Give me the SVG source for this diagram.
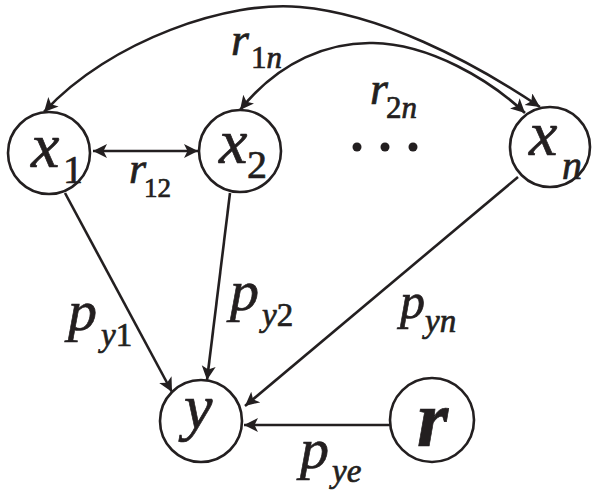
<svg xmlns="http://www.w3.org/2000/svg" width="600" height="496" viewBox="0 0 600 496">
<style>
.n{fill:#fff;stroke:#231f20;stroke-width:2.6}
.c{fill:none;stroke:#231f20;stroke-width:2.6}
text{fill:#231f20;stroke:#231f20;stroke-width:0.7}
.i{font-style:italic}
.u{font-style:normal}
.b{font-weight:bold;font-style:italic}
</style>
<defs>
<marker id="a" markerUnits="userSpaceOnUse" markerWidth="16" markerHeight="16" refX="14" refY="7" orient="auto-start-reverse">
<path d="M0,0 L14,7 L0,14 L3.5,7 Z" fill="#231f20"/>
</marker>
</defs>
<rect width="600" height="496" fill="#fff"/>
<g id="connectors">
<path class="c" d="M44,112 C110,40 230,0 300,7 C380,14 470,60 540,107" marker-start="url(#a)" marker-end="url(#a)"/>
<path class="c" d="M240,110 C280,60 330,42 373,43 C430,44 490,80 525,113" marker-start="url(#a)" marker-end="url(#a)"/>
<line class="c" x1="93" y1="151" x2="198" y2="151" marker-start="url(#a)" marker-end="url(#a)"/>
<line class="c" x1="65" y1="193" x2="172" y2="392" marker-end="url(#a)"/>
<line class="c" x1="230" y1="193" x2="207" y2="380" marker-end="url(#a)"/>
<line class="c" x1="518" y1="177" x2="245" y2="406" marker-end="url(#a)"/>
<line class="c" x1="390" y1="425" x2="244" y2="425" marker-end="url(#a)"/>
</g>
<g font-family="Times New Roman, Liberation Serif, Times, DejaVu Serif, serif">
<g id="labels">
<text class="i" x="231" y="55" font-size="46">r</text>
<text x="251" y="68" font-size="31"><tspan class="u">1</tspan><tspan class="i">n</tspan></text>
<text class="i" x="370" y="104" font-size="46">r</text>
<text x="386" y="118" font-size="31"><tspan class="u">2</tspan><tspan class="i">n</tspan></text>
<text class="i" x="129" y="183" font-size="44">r</text>
<text x="144" y="197" font-size="27">12</text>
<text class="i" x="68" y="330" font-size="58">p</text>
<text x="101" y="346" font-size="33"><tspan class="i">y</tspan><tspan class="u">1</tspan></text>
<text class="i" x="230" y="310" font-size="58">p</text>
<text x="262" y="326" font-size="33"><tspan class="i">y</tspan><tspan class="u">2</tspan></text>
<text class="i" x="400" y="318" font-size="50">p</text>
<text class="i" x="425" y="332" font-size="33">yn</text>
<text class="i" x="300" y="468" font-size="58">p</text>
<text class="i" x="332" y="482" font-size="33">ye</text>
</g>
<g id="x1">
<circle class="n" cx="49" cy="153" r="41"/>
<text class="i" x="31" y="167" font-size="64">x</text>
<text x="63" y="183" font-size="40">1</text>
</g>
<g id="x2">
<circle class="n" cx="240" cy="151" r="41"/>
<text class="i" x="219" y="163" font-size="64">x</text>
<text x="247" y="178" font-size="40">2</text>
</g>
<g id="xn">
<circle class="n" cx="550" cy="147" r="40"/>
<text class="i" x="529" y="155" font-size="64">x</text>
<text class="i" x="562" y="179" font-size="40">n</text>
</g>
<g id="dots">
<circle cx="357" cy="147" r="4.5" fill="#231f20"/>
<circle cx="385" cy="147" r="4.5" fill="#231f20"/>
<circle cx="413" cy="147" r="4.5" fill="#231f20"/>
</g>
<g id="y">
<circle class="n" cx="201" cy="421" r="41"/>
<text class="i" x="184" y="428" font-size="64">y</text>
</g>
<g id="r">
<circle class="n" cx="432" cy="420" r="42"/>
<text class="b" x="417" y="446" font-size="80">r</text>
</g>
</g>
</svg>
